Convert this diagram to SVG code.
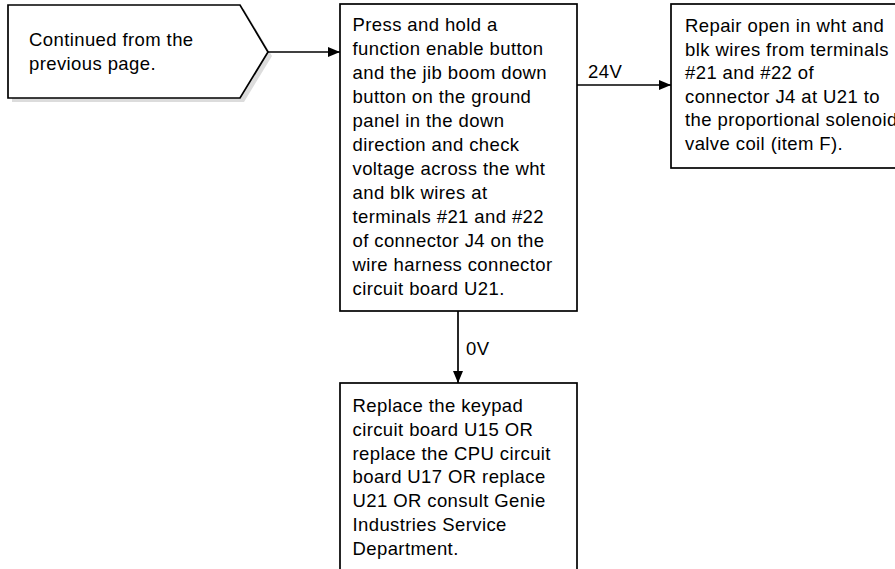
<svg xmlns="http://www.w3.org/2000/svg" width="895" height="569" viewBox="0 0 895 569">
<style>
.box{fill:#fff;stroke:#000;stroke-width:1.7}
.sh{fill:#dcdcdc;stroke:none}
.t{font-family:"Liberation Sans",Arial,sans-serif;font-size:18.5px;letter-spacing:0.4px;fill:#000}
.c{stroke:#000;stroke-width:1.7;fill:none}
</style>
<defs>
<marker id="ah" viewBox="0 0 12 10" refX="12" refY="5" markerWidth="12" markerHeight="10" markerUnits="userSpaceOnUse" orient="auto">
<path d="M0,0 L12,5 L0,10 Z" fill="#000"/>
</marker>
</defs>
<rect width="895" height="569" fill="#fff"/>
<g id="start">
<polygon class="sh" points="12,9 244,9 272,56 244,102 12,102"/>
<polygon class="box" points="8,5 240,5 268,52 240,98 8,98"/>
<text class="t" x="29" y="46">Continued from the</text>
<text class="t" x="29" y="70">previous page.</text>
</g>
<g id="check">
<rect class="box" x="340" y="4" width="237" height="307"/>
<text class="t" x="352.5" y="30.7">Press and hold a</text>
<text class="t" x="352.5" y="54.7">function enable button</text>
<text class="t" x="352.5" y="78.7">and the jib boom down</text>
<text class="t" x="352.5" y="102.7">button on the ground</text>
<text class="t" x="352.5" y="126.7">panel in the down</text>
<text class="t" x="352.5" y="150.7">direction and check</text>
<text class="t" x="352.5" y="174.7">voltage across the wht</text>
<text class="t" x="352.5" y="198.7">and blk wires at</text>
<text class="t" x="352.5" y="222.7">terminals #21 and #22</text>
<text class="t" x="352.5" y="246.7">of connector J4 on the</text>
<text class="t" x="352.5" y="270.7">wire harness connector</text>
<text class="t" x="352.5" y="294.7">circuit board U21.</text>
</g>
<g id="repair">
<rect class="box" x="671" y="4" width="240" height="164"/>
<text class="t" x="685" y="32">Repair open in wht and</text>
<text class="t" x="685" y="55.6">blk wires from terminals</text>
<text class="t" x="685" y="79.2">#21 and #22 of</text>
<text class="t" x="685" y="102.8">connector J4 at U21 to</text>
<text class="t" x="685" y="126.4">the proportional solenoid</text>
<text class="t" x="685" y="150">valve coil (item F).</text>
</g>
<g id="replace">
<rect class="box" x="340" y="383" width="237" height="200"/>
<text class="t" x="352.5" y="411.7">Replace the keypad</text>
<text class="t" x="352.5" y="435.6">circuit board U15 OR</text>
<text class="t" x="352.5" y="459.5">replace the CPU circuit</text>
<text class="t" x="352.5" y="483.4">board U17 OR replace</text>
<text class="t" x="352.5" y="507.3">U21 OR consult Genie</text>
<text class="t" x="352.5" y="531.2">Industries Service</text>
<text class="t" x="352.5" y="555.1">Department.</text>
</g>
<g id="connectors">
<line class="c" x1="268" y1="52" x2="340" y2="52" marker-end="url(#ah)"/>
<line class="c" x1="577" y1="85" x2="671" y2="85" marker-end="url(#ah)"/>
<line class="c" x1="458" y1="311" x2="458" y2="383" marker-end="url(#ah)"/>
<text class="t" x="588" y="78">24V</text>
<text class="t" x="466" y="355">0V</text>
</g>
</svg>
